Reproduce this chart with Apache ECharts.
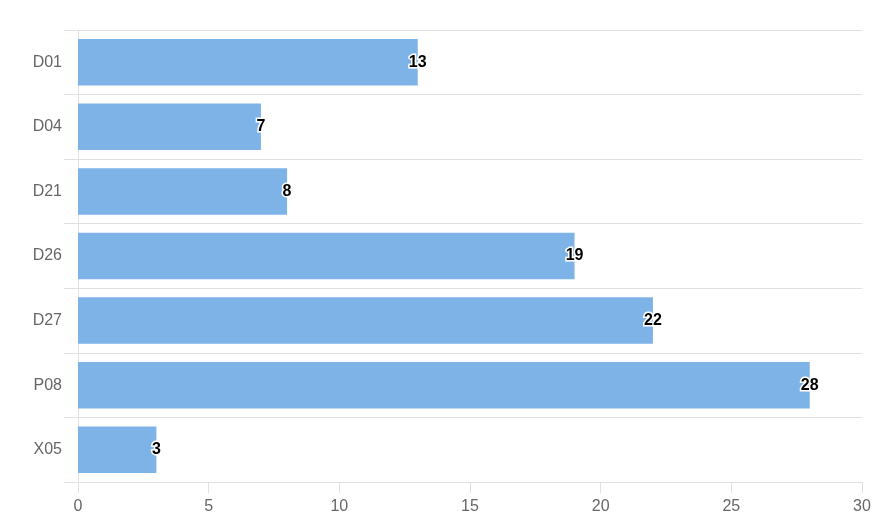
<!DOCTYPE html>
<html><head><meta charset="utf-8">
<script src="https://cdn.jsdelivr.net/npm/echarts@6/dist/echarts.min.js"></script>
<style>html,body{margin:0;padding:0;background:#fff}#c{width:886px;height:528px}</style>
</head><body><div id="c"></div>
<script>
const categories = ['D01','D04','D21','D26','D27','P08','X05'];
const values = [13, 7, 8, 19, 22, 28, 3];
const xTicks = {min: 0, max: 30, interval: 5};

const chart = echarts.init(document.getElementById('c'), null, {renderer: 'canvas'});
chart.setOption({
  animation: false,
  grid: {left: 78, right: 24, top: 30, bottom: 46, containLabel: false},
  xAxis: {
    type: 'value', min: xTicks.min, max: xTicks.max, interval: xTicks.interval,
    axisLine: {show: true, lineStyle: {color: '#e0e0e0', width: 1}},
    axisTick: {show: true, length: 11, lineStyle: {color: '#e0e0e0'}},
    splitLine: {show: false},
    axisLabel: {color: '#666', fontSize: 16, margin: 17, fontFamily: 'Liberation Sans, Arial, sans-serif'}
  },
  yAxis: {
    type: 'category', data: categories, inverse: true,
    axisLine: {show: true, lineStyle: {color: '#e0e0e0', width: 1}},
    axisTick: {show: true, length: 14, alignWithLabel: false, lineStyle: {color: '#e0e0e0'}},
    splitLine: {show: true, lineStyle: {color: '#e0e0e0', width: 1}},
    axisLabel: {color: '#666', fontSize: 16, margin: 16, fontFamily: 'Liberation Sans, Arial, sans-serif'}
  },
  series: [{
    type: 'bar', data: values, barCategoryGap: '28%',
    itemStyle: {color: '#7eb3e8'},
    label: {
      show: true, position: ['100%', '50%'], align: 'center', verticalAlign: 'middle',
      color: '#000', fontWeight: 'bold', fontSize: 16,
      textBorderColor: '#fff', textBorderWidth: 3,
      fontFamily: 'Liberation Sans, Arial, sans-serif'
    }
  }]
});
</script></body></html>
